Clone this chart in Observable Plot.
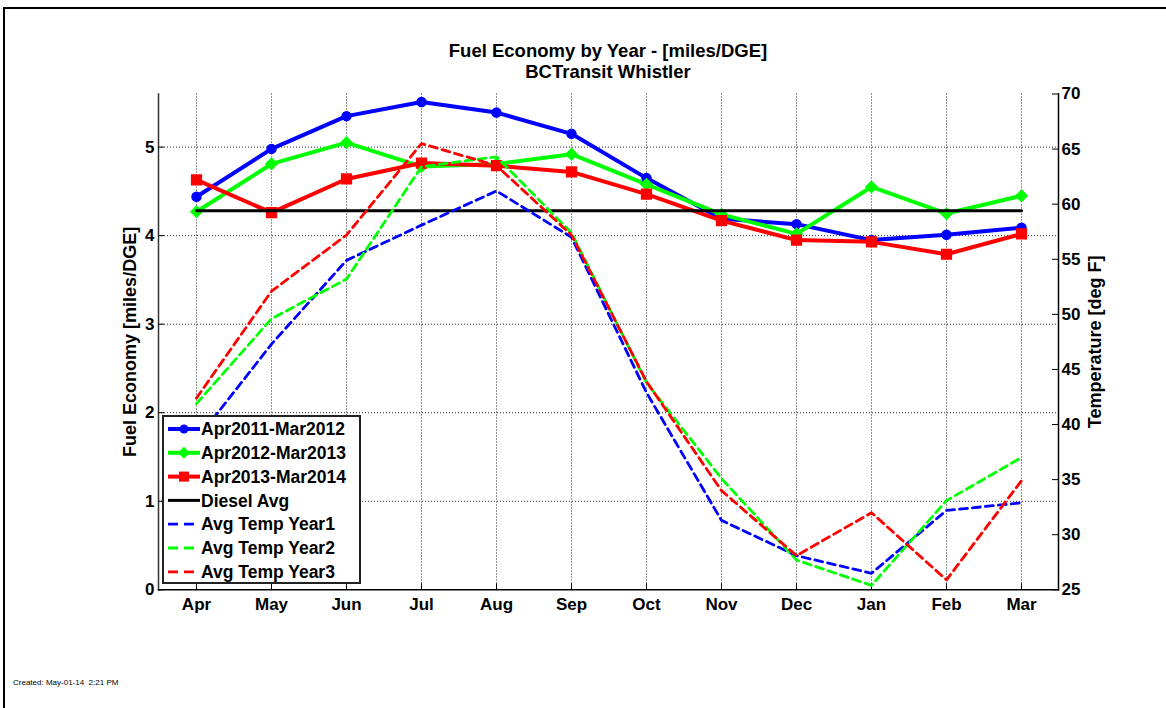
<!DOCTYPE html>
<html>
<head>
<meta charset="utf-8">
<script src="https://cdn.jsdelivr.net/npm/d3@7"></script>
<script src="https://cdn.jsdelivr.net/npm/@observablehq/plot@0.6"></script>
<style>
  html, body { margin: 0; padding: 0; background: #fff; }
  #wrap { position: relative; width: 1166px; height: 708px; overflow: hidden; background: #fff;
          font-family: "Liberation Sans", Arial, sans-serif; }
  #border { position: absolute; left: 3px; top: 7px; width: 1170px; height: 710px;
            border-top: 2px solid #000; border-left: 2px solid #000; box-sizing: border-box; }
  #title { position: absolute; left: 0; width: 1216px; top: 40px; text-align: center;
           font-weight: bold; font-size: 18.5px; line-height: 21px; color: #000; }
  #chart { position: absolute; left: 0; top: 0; }
  #legend { position: absolute; left: 162px; top: 415px; }
  #created { position: absolute; left: 13px; top: 678px; font-size: 8px; color: #000; }
</style>
</head>
<body>
<div id="wrap">
  <div id="border"></div>
  <div id="chart"></div>
  <div id="title">Fuel Economy by Year - [miles/DGE]<br>BCTransit Whistler</div>
  <div id="legend"></div>
  <div id="created">Created: May-01-14&nbsp;&nbsp;2:21 PM</div>
</div>
<script>
// ---------- data ----------
const months = ["Apr","May","Jun","Jul","Aug","Sep","Oct","Nov","Dec","Jan","Feb","Mar"];
const fuelYear1 = [4.44, 4.98, 5.35, 5.51, 5.39, 5.15, 4.65, 4.19, 4.13, 3.95, 4.01, 4.09];
const fuelYear2 = [4.27, 4.81, 5.05, 4.78, 4.81, 4.92, 4.58, 4.24, 4.02, 4.55, 4.25, 4.45];
const fuelYear3 = [4.63, 4.26, 4.64, 4.82, 4.79, 4.72, 4.47, 4.17, 3.95, 3.93, 3.79, 4.02];
const dieselAvg = 4.28;
const tempYear1 = [38.6, 47.3, 54.9, 58.1, 61.2, 57.0, 42.9, 31.3, 28.1, 26.5, 32.2, 32.9];
const tempYear2 = [41.9, 49.6, 53.2, 63.4, 64.3, 57.4, 43.8, 35.1, 27.7, 25.4, 33.1, 37.0];
const tempYear3 = [42.4, 52.1, 57.2, 65.5, 63.5, 57.2, 43.9, 34.0, 28.1, 32.0, 25.9, 34.9];
const leftTicks = [0, 1, 2, 3, 4, 5];
const rightTicks = [25, 30, 35, 40, 45, 50, 55, 60, 65, 70];
const leftDomain = [0, 5.6];
const rightDomain = [25, 70];
const seriesNames = ["Apr2011-Mar2012","Apr2012-Mar2013","Apr2013-Mar2014","Diesel Avg","Avg Temp Year1","Avg Temp Year2","Avg Temp Year3"];

// ---------- helpers ----------
const BLUE = "#0000ff", GREEN = "#00ff00", RED = "#ff0000";
const toLeft = t => (t - rightDomain[0]) / (rightDomain[1] - rightDomain[0]) * (leftDomain[1] - leftDomain[0]) + leftDomain[0];
const fromLeft = v => (v - leftDomain[0]) / (leftDomain[1] - leftDomain[0]) * (rightDomain[1] - rightDomain[0]) + rightDomain[0];

const rows = (vals) => months.map((m, i) => ({month: m, v: vals[i]}));
const fe1 = rows(fuelYear1), fe2 = rows(fuelYear2), fe3 = rows(fuelYear3);
const t1 = rows(tempYear1.map(toLeft)), t2 = rows(tempYear2.map(toLeft)), t3 = rows(tempYear3.map(toLeft));
const diesel = months.map(m => ({month: m, v: dieselAvg}));

const FONT = "Liberation Sans, Arial, sans-serif";
const tickStyle = {fontSize: 17, fontWeight: "bold", fill: "#000"};
const dash = "8,5";

const chart = Plot.plot({
  width: 1166,
  height: 708,
  marginLeft: 158,
  marginRight: 108,
  marginTop: 93.5,
  marginBottom: 118.7,
  style: {fontFamily: FONT, background: "transparent", overflow: "visible"},
  x: {type: "point", domain: months, padding: 0.5, axis: null},
  y: {domain: leftDomain, axis: null},
  marks: [
    // grid
    Plot.gridX(months, {stroke: "#000", strokeOpacity: 0.85, strokeDasharray: "1,2", strokeWidth: 1}),
    Plot.gridY(leftTicks.slice(1), {stroke: "#000", strokeOpacity: 0.85, strokeDasharray: "1,2", strokeWidth: 1}),
    // axis lines (no top line)
    Plot.frame({anchor: "left", stroke: "#333", strokeWidth: 1.5}),
    Plot.frame({anchor: "bottom", stroke: "#000", strokeWidth: 1.5}),
    Plot.frame({anchor: "right", stroke: "#000", strokeWidth: 1.5}),
    // inward ticks
    Plot.axisX(months, {anchor: "bottom", tickSize: -6, tickFormat: () => "", stroke: "#000", label: null}),
    Plot.axisY(leftTicks, {anchor: "left", tickSize: -6, tickFormat: () => "", stroke: "#000", label: null}),
    Plot.axisY(rightTicks.map(toLeft), {anchor: "right", tickSize: -7, tickFormat: () => "", stroke: "#000", label: null}),
    // tick labels
    Plot.axisX(months, {anchor: "bottom", tickSize: 0, tickPadding: 8, ...tickStyle, label: null}),
    Plot.axisY(leftTicks, {anchor: "left", tickSize: 0, tickPadding: 4, tickFormat: d => String(d), ...tickStyle, label: null}),
    Plot.axisY(rightTicks.map(toLeft), {anchor: "right", tickSize: 0, tickPadding: 3, tickFormat: d => String(Math.round(fromLeft(d))), ...tickStyle, label: null}),
    // axis titles
    Plot.text(["Fuel Economy [miles/DGE]"], {frameAnchor: "left", textAnchor: "middle", dx: -28, rotate: -90, fontSize: 18, fontWeight: "bold", fill: "#000"}),
    Plot.text(["Temperature [deg F]"], {frameAnchor: "right", textAnchor: "middle", dx: 37, rotate: -90, fontSize: 18, fontWeight: "bold", fill: "#000"}),
    // fuel economy lines
    Plot.line(fe1, {x: "month", y: "v", stroke: BLUE, strokeWidth: 4}),
    Plot.line(fe2, {x: "month", y: "v", stroke: GREEN, strokeWidth: 4}),
    Plot.line(fe3, {x: "month", y: "v", stroke: RED, strokeWidth: 4}),
    Plot.dot(fe1, {x: "month", y: "v", fill: BLUE, stroke: BLUE, r: 4.5, symbol: "circle"}),
    Plot.dot(fe2, {x: "month", y: "v", fill: GREEN, stroke: GREEN, r: 5, symbol: "diamond2"}),
    Plot.dot(fe3, {x: "month", y: "v", fill: RED, stroke: RED, r: 5.5, symbol: "square"}),
    Plot.line(diesel, {x: "month", y: "v", stroke: "#000", strokeWidth: 3}),
    // temperature lines
    Plot.line(t1, {x: "month", y: "v", stroke: BLUE, strokeWidth: 2.8, strokeDasharray: dash}),
    Plot.line(t2, {x: "month", y: "v", stroke: GREEN, strokeWidth: 2.8, strokeDasharray: dash}),
    Plot.line(t3, {x: "month", y: "v", stroke: RED, strokeWidth: 2.8, strokeDasharray: dash})
  ]
});
document.getElementById("chart").appendChild(chart);

// ---------- legend ----------
const legendItems = [
  {name: seriesNames[0], color: BLUE, dash: null, marker: "circle", w: 4},
  {name: seriesNames[1], color: GREEN, dash: null, marker: "diamond", w: 4},
  {name: seriesNames[2], color: RED, dash: null, marker: "square", w: 4},
  {name: seriesNames[3], color: "#000", dash: null, marker: null, w: 3},
  {name: seriesNames[4], color: BLUE, dash: "10,6", marker: null, w: 2.8},
  {name: seriesNames[5], color: GREEN, dash: "10,6", marker: null, w: 2.8},
  {name: seriesNames[6], color: RED, dash: "10,6", marker: null, w: 2.8}
];
const LW = 199, LH = 169, rowH = 23.8, y0 = 14;
const lsvg = d3.select("#legend").append("svg").attr("width", LW).attr("height", LH)
  .style("font-family", FONT);
lsvg.append("rect").attr("x", 1).attr("y", 1).attr("width", LW - 2).attr("height", LH - 2)
  .attr("fill", "#fff").attr("stroke", "#222").attr("stroke-width", 2);
const g = lsvg.selectAll("g.item").data(legendItems).join("g")
  .attr("transform", (d, i) => `translate(0,${y0 + i * rowH})`);
g.append("line").attr("x1", 6).attr("x2", 38).attr("y1", 0).attr("y2", 0)
  .attr("stroke", d => d.color).attr("stroke-width", d => d.w)
  .attr("stroke-dasharray", d => d.dash);
g.filter(d => d.marker === "circle").append("circle").attr("cx", 22).attr("cy", 0).attr("r", 4.5).attr("fill", d => d.color);
g.filter(d => d.marker === "square").append("rect").attr("x", 17).attr("y", -5).attr("width", 10).attr("height", 10).attr("fill", d => d.color);
g.filter(d => d.marker === "diamond").append("path").attr("d", "M22,-6L28,0L22,6L16,0Z").attr("fill", d => d.color);
g.append("text").attr("x", 39).attr("y", 0).attr("dy", "0.35em")
  .attr("font-size", 17.5).attr("font-weight", "bold").attr("fill", "#000").text(d => d.name);
</script>
</body>
</html>
